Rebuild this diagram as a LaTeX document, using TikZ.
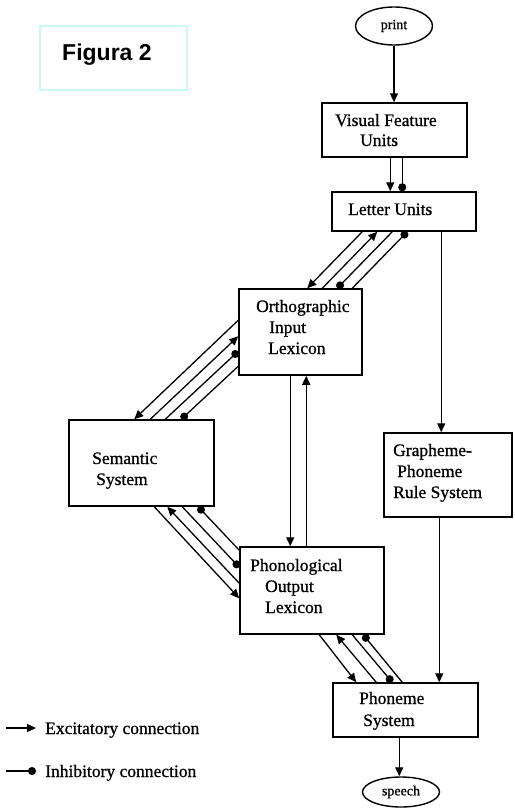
\documentclass[tikz,border=0pt]{standalone}
\usepackage{fontspec}
\setmainfont{Liberation Serif}[FakeBold=0.8]
\newfontfamily\figfont{Liberation Sans}
\usetikzlibrary{arrows.meta,shapes.geometric,calc}
\definecolor{figcyan}{RGB}{200,246,250}
\begin{document}
\begin{tikzpicture}[x=1pt,y=-1pt,
  box/.style={draw,line width=1.5pt,inner sep=0pt},
  oval/.style={draw,ellipse,line width=1.4pt,inner sep=0pt,font=\fontsize{14}{16}\selectfont},
  lbl/.style={anchor=base west,inner sep=0pt,font=\fontsize{17.5}{20}\selectfont},
  conn/.style={line width=1.3pt},
  exc/.style={conn,-{Triangle[length=9pt,width=8pt]}},
  inh/.style={conn,-{Circle[length=8pt]}}]
\fill[white] (0,0) rectangle (514,808);
\useasboundingbox (0,0) rectangle (514,808);

% Figura box
\node[draw=figcyan,line width=1.5pt,inner sep=0pt,minimum width=147pt,minimum height=64pt] (fig) at (113.5,58) {};
\node[anchor=base west,inner sep=0pt,font=\figfont\bfseries\fontsize{23}{26}\selectfont] (figt) at (62,60) {Figura 2};

% nodes
\node[oval,minimum width=77pt,minimum height=38pt] (pr) at (394,26) {print};
\node[box,minimum width=145pt,minimum height=54pt] (vfu) at (394.5,130) {};
\node[box,minimum width=144pt,minimum height=39pt] (lu) at (404,211.5) {};
\node[box,minimum width=123pt,minimum height=86pt] (oil) at (300.5,332) {};
\node[box,minimum width=145pt,minimum height=86pt] (sem) at (141.5,463) {};
\node[box,minimum width=128pt,minimum height=84pt] (gr) at (448,475) {};
\node[box,minimum width=144pt,minimum height=87pt] (pol) at (312,590.5) {};
\node[box,minimum width=145pt,minimum height=54pt] (ph) at (405.5,710) {};
\node[oval,minimum width=77pt,minimum height=30pt] (sp) at (401,792) {speech};

% labels
\node[lbl] (t1) at (335,126) {Visual Feature};
\node[lbl] (t2) at (360,146) {Units};
\node[lbl] (t3) at (348,215) {Letter Units};
\node[lbl] (t4) at (256,312) {Orthographic};
\node[lbl] (t5) at (269,333) {Input};
\node[lbl] (t6) at (268,354) {Lexicon};
\node[lbl] (t7) at (92,464) {Semantic};
\node[lbl] (t8) at (96,485) {System};
\node[lbl] (t9) at (393,456) {Grapheme-};
\node[lbl] (t10) at (397,477) {Phoneme};
\node[lbl] (t11) at (393,498) {Rule System};
\node[lbl] (t12) at (250,571) {Phonological};
\node[lbl] (t13) at (265,592) {Output};
\node[lbl] (t14) at (265,613) {Lexicon};
\node[lbl] (t15) at (359,704) {Phoneme};
\node[lbl] (t16) at (363,726) {System};

% vertical connections
\draw[exc] (pr.south) -- (pr.south |- vfu.north);
\draw[exc] ($(vfu.south west)+(69,0)$) coordinate (a1) -- (a1 |- lu.north);
\draw[inh] ($(vfu.south west)+(81,0)$) coordinate (a2) -- (a2 |- lu.north);
\draw[exc] ($(lu.south west)+(110,0)$) coordinate (a3) -- (a3 |- gr.north);
\draw[exc] ($(gr.south west)+(56,0)$) coordinate (a4) -- (a4 |- ph.north);
\draw[exc] ($(ph.south west)+(67,0)$) coordinate (a5) -- (a5 |- sp.north);
\draw[exc] ($(oil.south west)+(52,0)$) coordinate (a6) -- (a6 |- pol.north);
\coordinate (a7) at ($(oil.south west)+(68,0)$);
\draw[exc] (a7 |- pol.north) -- (a7);

% Letter Units <-> Orthographic
\draw[exc] ($(lu.south west)+(31,0)$) -- ($(oil.north west)+(69,0)$);
\draw[exc] ($(oil.north west)+(84,0)$) -- ($(lu.south west)+(46,0)$);
\draw[inh] ($(lu.south west)+(61,0)$) -- ($(oil.north west)+(99,0)$);
\draw[inh] ($(oil.north west)+(114,0)$) -- ($(lu.south west)+(76,0)$);

% Orthographic <-> Semantic
\draw[exc] ($(oil.north west)+(0,32)$) -- ($(sem.north west)+(66,0)$);
\draw[exc] ($(sem.north west)+(82,0)$) -- ($(oil.north west)+(0,48)$);
\draw[inh] ($(sem.north west)+(97,0)$) -- ($(oil.north west)+(0,63)$);
\draw[inh] ($(oil.north west)+(0,78)$) -- ($(sem.north west)+(113,0)$);

% Semantic <-> Phonological
\draw[exc] ($(sem.south west)+(86,0)$) -- ($(pol.north west)+(0,52)$);
\draw[exc] ($(pol.north west)+(0,37)$) -- ($(sem.south west)+(99,0)$);
\draw[inh] ($(sem.south west)+(114,0)$) -- ($(pol.north west)+(0,21)$);
\draw[inh] ($(pol.north west)+(0,4)$) -- ($(sem.south west)+(130,0)$);

% Phonological <-> Phoneme
\draw[exc] ($(pol.south west)+(80,0)$) -- ($(ph.north west)+(24,0)$);
\draw[exc] ($(ph.north west)+(44,0)$) -- ($(pol.south west)+(97,0)$);
\draw[inh] ($(pol.south west)+(113,0)$) -- ($(ph.north west)+(60,0)$);
\draw[inh] ($(ph.north west)+(70,0)$) -- ($(pol.south west)+(124,0)$);

% legend
\coordinate (le1) at (6,728);
\coordinate (le2) at (36,728);
\coordinate (li1) at (6,771);
\coordinate (li2) at (36,771);
\draw[exc] (le1) -- (le2);
\draw[inh] (li1) -- (li2);
\node[lbl] (lx) at (45,734) {Excitatory connection};
\node[lbl] (lh) at (45,777) {Inhibitory connection};
\end{tikzpicture}
\end{document}
